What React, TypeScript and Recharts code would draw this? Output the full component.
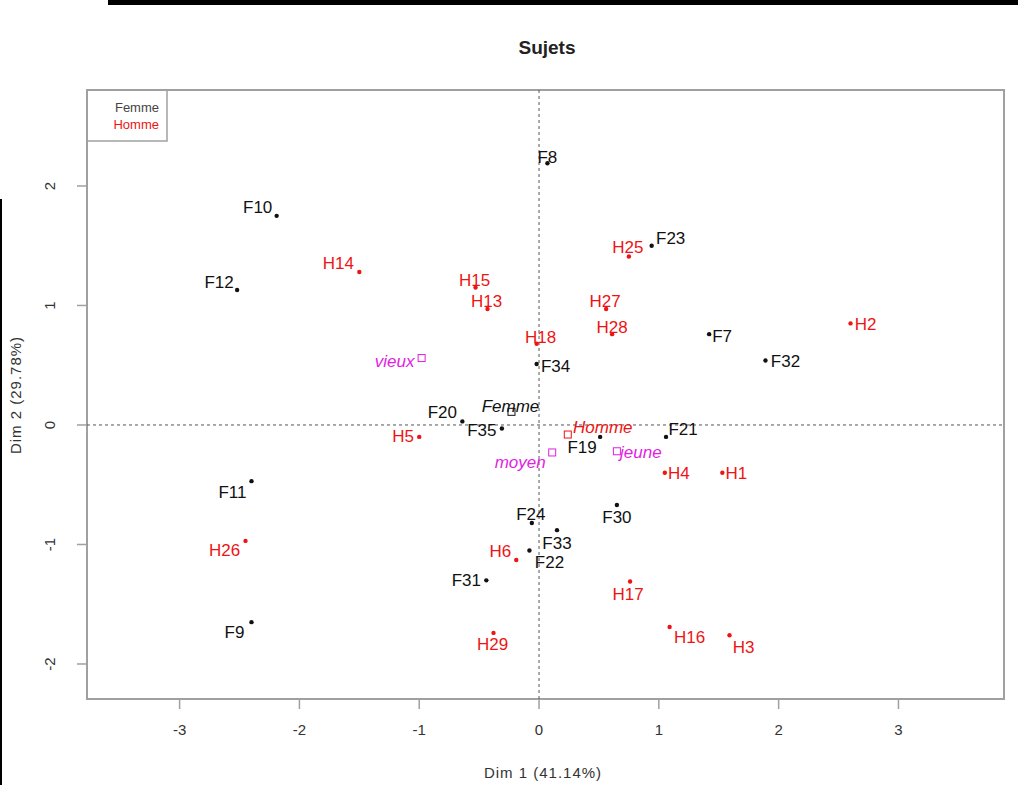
import React from "react";
import {
  ScatterChart,
  Scatter,
  XAxis,
  YAxis,
  ReferenceLine,
  ReferenceArea,
} from "recharts";

// individus (coordonnées)
const femmes = [
  { name: "F7", x: 1.42, y: 0.76 },
  { name: "F8", x: 0.07, y: 2.19 },
  { name: "F9", x: -2.4, y: -1.65 },
  { name: "F10", x: -2.19, y: 1.75 },
  { name: "F11", x: -2.4, y: -0.47 },
  { name: "F12", x: -2.52, y: 1.13 },
  { name: "F19", x: 0.51, y: -0.1 },
  { name: "F20", x: -0.64, y: 0.03 },
  { name: "F21", x: 1.06, y: -0.1 },
  { name: "F22", x: -0.08, y: -1.05 },
  { name: "F23", x: 0.94, y: 1.5 },
  { name: "F24", x: -0.06, y: -0.82 },
  { name: "F30", x: 0.65, y: -0.67 },
  { name: "F31", x: -0.44, y: -1.3 },
  { name: "F32", x: 1.89, y: 0.54 },
  { name: "F33", x: 0.15, y: -0.88 },
  { name: "F34", x: -0.02, y: 0.51 },
  { name: "F35", x: -0.31, y: -0.03 },
];

const hommes = [
  { name: "H1", x: 1.53, y: -0.4 },
  { name: "H2", x: 2.6, y: 0.85 },
  { name: "H3", x: 1.59, y: -1.76 },
  { name: "H4", x: 1.05, y: -0.4 },
  { name: "H5", x: -1.0, y: -0.1 },
  { name: "H6", x: -0.19, y: -1.13 },
  { name: "H13", x: -0.43, y: 0.97 },
  { name: "H14", x: -1.5, y: 1.28 },
  { name: "H15", x: -0.53, y: 1.15 },
  { name: "H16", x: 1.09, y: -1.69 },
  { name: "H17", x: 0.76, y: -1.31 },
  { name: "H18", x: -0.02, y: 0.68 },
  { name: "H25", x: 0.75, y: 1.41 },
  { name: "H26", x: -2.45, y: -0.97 },
  { name: "H27", x: 0.56, y: 0.97 },
  { name: "H28", x: 0.61, y: 0.76 },
  { name: "H29", x: -0.38, y: -1.74 },
];

// modalités supplémentaires
const sexeFemme = [{ name: "Femme", x: -0.23, y: 0.11 }];
const sexeHomme = [{ name: "Homme", x: 0.24, y: -0.08 }];
const ages = [
  { name: "moyen", x: 0.11, y: -0.23 },
  { name: "jeune", x: 0.65, y: -0.22 },
  { name: "vieux", x: -0.98, y: 0.56 },
];

const xTicks = [-3, -2, -1, 0, 1, 2, 3];
const yTicks = [-2, -1, 0, 1, 2];
const xDomain = [-3.773, 3.881];
const yDomain = [-2.293, 2.803];

// décalage des étiquettes par rapport au point (px)
const labelPos: Record<string, [number, number]> = {
  F8: [0, -6], F10: [-19, -8], H14: [-21, -9], F12: [-18, -7],
  H15: [-1, -7], H13: [-1, -8], H18: [4, -6], F34: [19, 2],
  H25: [-1, -9], F23: [19, -7], H27: [-1, -8], H28: [0, -7],
  F7: [13, 2], F32: [20, 1], H2: [15, 1], F20: [-20, -9],
  F35: [-20, 2], H5: [-16, 0], F19: [-18, 11], F21: [17, -7],
  H4: [14, 1], H1: [14, 1], F11: [-19, 11], H26: [-21, 10],
  F9: [-17, 10], F24: [-1, -8], F33: [0, 13], F22: [20, 12],
  H6: [-16, -9], F31: [-20, 0], H29: [-1, 12], F30: [0, 12],
  H17: [-2, 13], H16: [20, 11], H3: [14, 12],
  Femme: [-1, -5], Homme: [35, -7], moyen: [-32, 10], jeune: [24, 1], vieux: [-27, 3],
};

const FONT = "'Liberation Sans', Arial, Helvetica, sans-serif";
const BLACK = "#111111";
const RED = "#ee1414";
const MAGENTA = "#e21ee2";

const pointShape = (color: string) => (props: any) => {
  const { cx, cy, payload } = props;
  const [dx, dy] = labelPos[payload.name] || [0, -8];
  return (
    <g>
      <circle cx={cx} cy={cy} r={2.2} fill={color} />
      <text
        x={cx + dx}
        y={cy + dy}
        textAnchor="middle"
        dominantBaseline="central"
        fontSize={17}
        fontFamily={FONT}
        fill={color}
      >
        {payload.name}
      </text>
    </g>
  );
};

const squareShape = (color: string) => (props: any) => {
  const { cx, cy, payload } = props;
  const [dx, dy] = labelPos[payload.name] || [0, -8];
  return (
    <g>
      <rect x={cx - 3.5} y={cy - 3.5} width={7} height={7} fill="none" stroke={color} strokeWidth={1} />
      <text
        x={cx + dx}
        y={cy + dy}
        textAnchor="middle"
        dominantBaseline="central"
        fontSize={17}
        fontStyle="italic"
        fontFamily={FONT}
        fill={color}
      >
        {payload.name}
      </text>
    </g>
  );
};

const XTick = (props: any) => {
  const { x, y, payload } = props;
  return (
    <text x={x} y={y + 24} textAnchor="middle" fontSize={15} fontFamily={FONT} fill="#333">
      {payload.value}
    </text>
  );
};

const YTick = (props: any) => {
  const { x, y, payload } = props;
  const tx = x - 25;
  return (
    <text
      x={tx}
      y={y}
      textAnchor="middle"
      dominantBaseline="central"
      transform={`rotate(-90 ${tx} ${y})`}
      fontSize={15}
      fontFamily={FONT}
      fill="#333"
    >
      {payload.value}
    </text>
  );
};

export default function App() {
  return (
    <div style={{ position: "absolute", left: 0, top: 0, width: 1018, height: 785, background: "#fff" }}>
      <ScatterChart width={1018} height={785} margin={{ top: 90, right: 14, bottom: 36, left: 27 }}>
        <XAxis
          type="number"
          dataKey="x"
          domain={xDomain}
          ticks={xTicks}
          allowDataOverflow
          axisLine={false}
          tickLine={{ stroke: "#a0a0a0", strokeWidth: 1.5 }}
          tickSize={10}
          height={50}
          tick={<XTick />}
        />
        <YAxis
          type="number"
          dataKey="y"
          domain={yDomain}
          ticks={yTicks}
          allowDataOverflow
          axisLine={false}
          tickLine={{ stroke: "#a0a0a0", strokeWidth: 1.5 }}
          tickSize={10}
          width={60}
          tick={<YTick />}
        />
        <ReferenceArea
          x1={xDomain[0]}
          x2={xDomain[1]}
          y1={yDomain[0]}
          y2={yDomain[1]}
          fill="none"
          stroke="#a0a0a0"
          strokeWidth={2}
          ifOverflow="visible"
        />
        <ReferenceLine x={0} stroke="#555" strokeDasharray="3 3" />
        <ReferenceLine y={0} stroke="#555" strokeDasharray="3 3" />
        <Scatter data={femmes} shape={pointShape(BLACK)} isAnimationActive={false} />
        <Scatter data={hommes} shape={pointShape(RED)} isAnimationActive={false} />
        <Scatter data={sexeFemme} shape={squareShape(BLACK)} isAnimationActive={false} />
        <Scatter data={sexeHomme} shape={squareShape(RED)} isAnimationActive={false} />
        <Scatter data={ages} shape={squareShape(MAGENTA)} isAnimationActive={false} />
      </ScatterChart>

      <svg
        width={1018}
        height={785}
        style={{ position: "absolute", left: 0, top: 0, pointerEvents: "none" }}
        fontFamily={FONT}
      >
        <rect x={108} y={0} width={910} height={5} fill="#000" />
        <rect x={0} y={199} width={2} height={586} fill="#000" />
        <text x={547} y={54} textAnchor="middle" fontSize={19} fontWeight="bold" fill="#222">
          Sujets
        </text>
        <text x={543} y={778} textAnchor="middle" fontSize={15} letterSpacing={1} fill="#333">
          Dim 1 (41.14%)
        </text>
        <text
          x={21}
          y={395}
          textAnchor="middle"
          transform="rotate(-90 21 395)"
          fontSize={15}
          letterSpacing={1}
          fill="#333"
        >
          Dim 2 (29.78%)
        </text>
        <rect x={87} y={90} width={80} height={51} fill="none" stroke="#a0a0a0" strokeWidth={1.5} />
        <text x={159} y={112} textAnchor="end" fontSize={13} fill="#444">
          Femme
        </text>
        <text x={159} y={129} textAnchor="end" fontSize={13} fill={RED}>
          Homme
        </text>
      </svg>
    </div>
  );
}
